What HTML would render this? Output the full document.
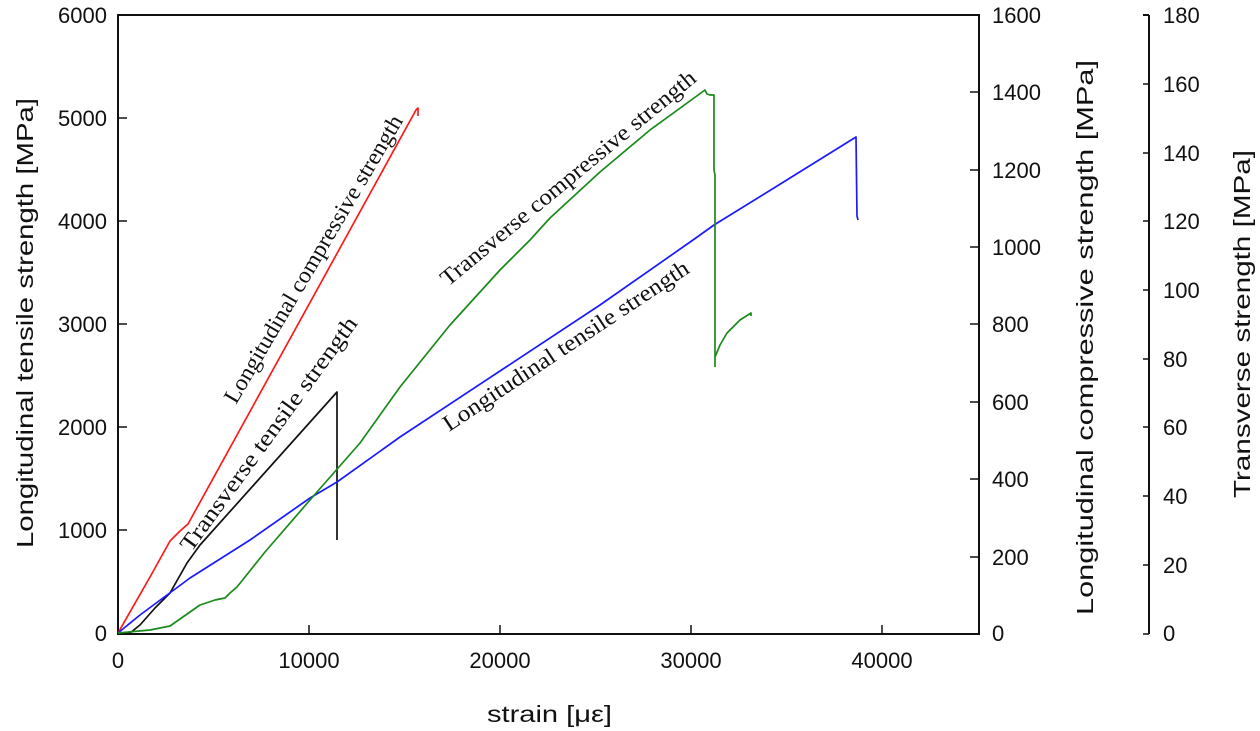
<!DOCTYPE html>
<html><head><meta charset="utf-8"><style>
html,body{margin:0;padding:0;background:#fff;}
svg{display:block;font-family:"Liberation Sans",Arial,sans-serif;}
.t{font-size:22px;fill:#111;}
.a{font-size:23px;fill:#111;}
.s{font-family:"Liberation Serif","Times New Roman",serif;font-size:23px;fill:#111;}
</style></head><body>
<svg width="1260" height="731" viewBox="0 0 1260 731" xmlns="http://www.w3.org/2000/svg">
<g stroke="#111" stroke-width="2" fill="none">
<path d="M118,15 H979 V634 H118 Z"/>
<path d="M1149,15 V634"/>
<path d="M1149,15 h-6"/>
</g>
<g stroke="#111" stroke-width="1.5">
<line x1="118" y1="118" x2="127" y2="118"/><line x1="118" y1="221" x2="127" y2="221"/>
<line x1="118" y1="324" x2="127" y2="324"/><line x1="118" y1="427" x2="127" y2="427"/>
<line x1="118" y1="530" x2="127" y2="530"/>
<line x1="309" y1="634" x2="309" y2="625"/><line x1="500" y1="634" x2="500" y2="625"/>
<line x1="691" y1="634" x2="691" y2="625"/><line x1="882" y1="634" x2="882" y2="625"/>
<line x1="979" y1="92" x2="970" y2="92"/><line x1="979" y1="170" x2="970" y2="170"/>
<line x1="979" y1="247" x2="970" y2="247"/><line x1="979" y1="324" x2="970" y2="324"/>
<line x1="979" y1="402" x2="970" y2="402"/><line x1="979" y1="479" x2="970" y2="479"/>
<line x1="979" y1="557" x2="970" y2="557"/>
<line x1="1149" y1="84" x2="1143" y2="84"/><line x1="1149" y1="153" x2="1143" y2="153"/>
<line x1="1149" y1="221" x2="1143" y2="221"/><line x1="1149" y1="290" x2="1143" y2="290"/>
<line x1="1149" y1="359" x2="1143" y2="359"/><line x1="1149" y1="427" x2="1143" y2="427"/>
<line x1="1149" y1="496" x2="1143" y2="496"/><line x1="1149" y1="565" x2="1143" y2="565"/>
<line x1="1149" y1="634" x2="1143" y2="634"/>
</g>
<g fill="none" stroke-width="1.7" stroke-linejoin="round">
<polyline stroke="#ff1a1a" points="118,633 150,577 170,541 180,531 188,524 416,110 418,108 418,116"/>
<polyline stroke="#111" points="118,633 130,633 140,625 155,608 170,593 187,563 200,545 337,392 337,540"/>
<polyline stroke="#1a1aff" points="118,633 140,615 190,578 250,540 310,498 337,482 400,437 500,371 600,305 693,240 714,225 790,178 856,137 857,216 858,220"/>
<polyline stroke="#1a8a1a" points="118,633 150,630 170,626 190,612 200,605 215,600 225,598 230,593 237,587 265,552 310,500 360,443 400,387 450,325 500,270 530,240 550,218 600,172 650,130 705,90 707,94 710,95 714,95 714,170 715,175 715,367"/>
<polyline stroke="#1a8a1a" points="715,357 720,345 727,333 740,320 751,313 751,316"/>
</g>
<g class="t" text-anchor="end">
<text x="107" y="23">6000</text><text x="107" y="126">5000</text><text x="107" y="229">4000</text>
<text x="107" y="332">3000</text><text x="107" y="435">2000</text><text x="107" y="538">1000</text>
<text x="107" y="641">0</text>
</g>
<g class="t" text-anchor="middle">
<text x="118" y="668">0</text><text x="309" y="668">10000</text><text x="500" y="668">20000</text>
<text x="691" y="668">30000</text><text x="882" y="668">40000</text>
</g>
<g class="t" text-anchor="start">
<text x="992" y="23">1600</text><text x="992" y="100">1400</text><text x="992" y="178">1200</text>
<text x="992" y="255">1000</text><text x="992" y="332">800</text><text x="992" y="410">600</text>
<text x="992" y="487">400</text><text x="992" y="565">200</text><text x="992" y="641">0</text>
<text x="1163" y="23">180</text><text x="1163" y="92">160</text><text x="1163" y="161">140</text>
<text x="1163" y="229">120</text><text x="1163" y="298">100</text><text x="1163" y="367">80</text>
<text x="1163" y="435">60</text><text x="1163" y="504">40</text><text x="1163" y="573">20</text>
<text x="1163" y="641">0</text>
</g>
<text class="a" x="487" y="722" textLength="125" lengthAdjust="spacingAndGlyphs">strain [με]</text>
<text class="a" transform="translate(33,548) rotate(-90)" textLength="450" lengthAdjust="spacingAndGlyphs">Longitudinal tensile strength [MPa]</text>
<text class="a" transform="translate(1093,615) rotate(-90)" textLength="555" lengthAdjust="spacingAndGlyphs">Longitudinal compressive strength [MPa]</text>
<text class="a" transform="translate(1250,498) rotate(-90)" textLength="348" lengthAdjust="spacingAndGlyphs">Transverse strength [MPa]</text>
<text class="s" transform="translate(236,405) rotate(-59.5)" textLength="330" lengthAdjust="spacingAndGlyphs">Longitudinal compressive strength</text>
<text class="s" transform="translate(191,553) rotate(-53.9)" textLength="284" lengthAdjust="spacingAndGlyphs">Transverse tensile strength</text>
<text class="s" transform="translate(448,287) rotate(-39.6)" textLength="324" lengthAdjust="spacingAndGlyphs">Transverse compressive strength</text>
<text class="s" transform="translate(449,432) rotate(-33.5)" textLength="290" lengthAdjust="spacingAndGlyphs">Longitudinal tensile strength</text>
</svg>
</body></html>
